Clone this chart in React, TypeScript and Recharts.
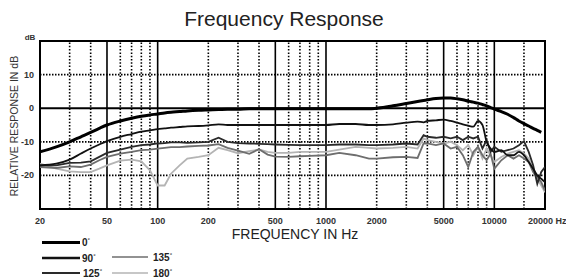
import React from 'react';
import { LineChart, Line, XAxis, YAxis, ReferenceLine, ReferenceArea } from 'recharts';

const freqs = [20, 25, 30, 35, 40, 45, 50, 60, 70, 80, 90, 100, 110, 120, 135, 150, 175, 200, 230, 260, 300, 350, 400, 450, 500, 600, 700, 800, 1000, 1200, 1500, 1800, 2000, 2500, 3000, 3500, 3800, 4000, 4500, 5000, 5500, 6000, 6500, 7000, 7500, 8000, 8500, 9000, 9500, 10000, 11000, 12000, 13000, 14000, 15000, 16000, 17000, 18000, 19000, 20000];

const deg0 = [-13, -11.5, -10, -8.5, -7.2, -6, -5, -3.8, -3, -2.4, -2, -1.7, -1.4, -1.2, -1, -0.8, -0.6, -0.5, -0.4, -0.3, -0.3, -0.2, -0.2, -0.2, -0.2, -0.2, -0.2, -0.2, -0.2, -0.2, -0.2, -0.2, 0, 0.7, 1.4, 2, 2.3, 2.5, 2.9, 3.0, 3.0, 2.8, 2.5, 2.1, 1.8, 1.5, 1.1, 0.7, 0.2, -0.3, -1, -1.8, -2.8, -3.8, -4.6, -5.3, -6.0, -6.6, -7.2, null];

const deg90 = [-17, -16.5, -15.3, -13.5, -12, -10.8, -9.8, -8.5, -7.7, -7, -6.6, -6.2, -6, -5.8, -5.6, -5.4, -5.3, -5.1, -4.8, -5, -5, -5, -5, -5, -5, -5, -5, -5, -5, -4.7, -4.7, -5, -5, -4.8, -4.3, -4, -4.2, -3.8, -3.6, -3.4, -3.8, -4.3, -4.8, -5.2, -5.5, -3.8, -5, -10, -12, -13, -12.5, -14, -14, -13, -14, -16, -18, -20, -21, -22];

const deg125 = [-17, -17, -16.3, -16.2, -15.8, -14.5, -13.3, -12.3, -11.5, -11, -10.8, -10.5, -10.4, -10.2, -10.2, -10.3, -10.2, -10, -8.8, -10, -10.4, -10.5, -10.6, -10.7, -10.8, -10.9, -11, -11, -11, -10.8, -10.8, -11, -11, -10.8, -10.5, -10.8, -8, -8.5, -8.8, -8.5, -9, -8.5, -9.5, -8.5, -9, -8.5, -12, -9.5, -13, -11.5, -13, -12.5, -12, -11, -9.8, -13, -17, -22.5, -19, -17.5];

const deg135 = [-17.5, -17.8, -17.3, -17.5, -16.8, -15.5, -14.5, -13.5, -13, -12.5, -12.3, -12, -11.8, -11.6, -11.6, -11.4, -11.2, -11.1, -10.7, -11.8, -12.6, -13.6, -12.2, -13.8, -14.4, -14.5, -14.3, -14.2, -14, -13.3, -14, -15, -15, -14.6, -14.5, -14.8, -10.5, -10.5, -11, -10.5, -12, -11.5, -14, -17.5, -13, -11.5, -14, -15.5, -13.5, -18, -15.5, -14, -15, -14, -15, -16, -19, -20.5, -22, -24.5];

const deg180 = [-16.5, -18, -18.8, -19, -19, -18, -17, -15.6, -15.3, -15.8, -18.5, -23, -23, -19.5, -17, -15, -14.5, -14, -11.8, -12.5, -13.4, -12.8, -12.3, -13, -13.3, -13.3, -13, -13, -13, -12.3, -11.5, -11.8, -12, -11.8, -11.5, -12, -9, -9.5, -10, -10.5, -10, -11, -12.5, -11, -14, -11.5, -15, -12, -14, -16, -14.5, -13.5, -13, -12.5, -13.5, -15, -18.5, -21, -23, -25];

const xTicks = [20, 50, 100, 200, 500, 1000, 2000, 5000, 10000, 20000];
const yTicks = [-20, -10, 0, 10];
const solidX = [50, 100, 500, 1000, 5000, 10000];
const dottedX = [30, 40, 60, 70, 80, 90, 200, 300, 400, 600, 700, 800, 900, 2000, 3000, 4000, 6000, 7000, 8000, 9000, 15000];
const dottedY = [10, -10, -20];

const data = freqs.map((f, i) => ({
  f,
  d0: deg0[i],
  d90: deg90[i],
  d125: deg125[i],
  d135: deg135[i],
  d180: deg180[i],
}));

const font = 'Arial, "Liberation Sans", Helvetica, sans-serif';

const XTick = (props: any) => {
  const { x, y, payload } = props;
  if (payload.value === 20000) {
    return (
      <text x={x - 17} y={y + 7} fontSize={9} fontFamily={font} fill="#333" fontWeight="bold" textAnchor="start">
        20000 Hz
      </text>
    );
  }
  return (
    <text x={x} y={y + 7} fontSize={9} fontFamily={font} fill="#333" fontWeight="bold" textAnchor="middle">
      {payload.value}
    </text>
  );
};

const YTick = (props: any) => {
  const { x, y, payload } = props;
  return (
    <text x={x + 2} y={y + 3} fontSize={9} fontFamily={font} fill="#333" fontWeight="bold" textAnchor="end">
      {payload.value}
    </text>
  );
};

const Deg = ({ x, y, label }: { x: number; y: number; label: string }) => (
  <text x={x} y={y} fontSize={10} fontFamily={font} fill="#222" fontWeight="bold">
    {label}
    <tspan fontSize={6} dy={-4}>°</tspan>
  </text>
);

export default function App() {
  return (
    <div style={{ position: 'fixed', left: 0, top: 0, width: 566, height: 278, background: '#fff' }}>
      <LineChart width={566} height={278} data={data} margin={{ top: 41, right: 21, bottom: 49, left: 0 }}>
        <XAxis
          dataKey="f"
          type="number"
          scale="log"
          domain={[20, 20000]}
          ticks={xTicks}
          axisLine={false}
          tickLine={false}
          tick={<XTick />}
          height={20}
          allowDataOverflow
        />
        <YAxis
          type="number"
          domain={[-30, 20]}
          ticks={yTicks}
          axisLine={false}
          tickLine={false}
          tick={<YTick />}
          width={40}
          allowDataOverflow
        />
        {dottedX.map((f) => (
          <ReferenceLine key={'dx' + f} x={f} stroke="#000" strokeWidth={1.6} strokeDasharray="1.5 1.8" />
        ))}
        {solidX.map((f) => (
          <ReferenceLine key={'sx' + f} x={f} stroke="#000" strokeWidth={1.6} />
        ))}
        {dottedY.map((v) => (
          <ReferenceLine key={'dy' + v} y={v} stroke="#000" strokeWidth={1.8} strokeDasharray="1.5 1.5" />
        ))}
        <ReferenceLine y={0} stroke="#000" strokeWidth={2} />
        <Line dataKey="d180" stroke="#b4b4b4" strokeWidth={1.8} dot={false} type="linear" isAnimationActive={false} />
        <Line dataKey="d135" stroke="#6e6e6e" strokeWidth={1.8} dot={false} type="linear" isAnimationActive={false} />
        <Line dataKey="d125" stroke="#2a2a2a" strokeWidth={1.8} dot={false} type="linear" isAnimationActive={false} />
        <Line dataKey="d90" stroke="#111" strokeWidth={1.8} dot={false} type="monotone" isAnimationActive={false} />
        <Line dataKey="d0" stroke="#000" strokeWidth={3} dot={false} type="monotone" isAnimationActive={false} connectNulls />
        <ReferenceArea x1={20} x2={20000} y1={-30} y2={20} fill="none" stroke="#000" strokeWidth={2} />
      </LineChart>
      <svg width={566} height={278} style={{ position: 'absolute', left: 0, top: 0, pointerEvents: 'none' }}>
        <text x={284} y={26} fontSize={21} fontFamily={font} fill="#222" textAnchor="middle">
          Frequency Response
        </text>
        <text x={30} y={40} fontSize={8} fontFamily={font} fill="#333" fontWeight="bold" textAnchor="middle">
          dB
        </text>
        <text
          x={0}
          y={0}
          fontSize={10.5}
          fontFamily={font}
          fill="#333"
          textAnchor="middle"
          transform="translate(18,126) rotate(-90)"
        >
          RELATIVE RESPONSE IN dB
        </text>
        <text x={295} y={239} fontSize={14} fontFamily={font} fill="#222" textAnchor="middle">
          FREQUENCY IN Hz
        </text>
        <line x1={42} x2={80} y1={242.5} y2={242.5} stroke="#000" strokeWidth={3} />
        <Deg x={82} y={246} label="0" />
        <line x1={42} x2={80} y1={258} y2={258} stroke="#111" strokeWidth={2.4} />
        <Deg x={82} y={261.5} label="90" />
        <line x1={112} x2={148} y1={257} y2={257} stroke="#6e6e6e" strokeWidth={1.5} />
        <Deg x={153} y={260.5} label="135" />
        <line x1={42} x2={80} y1={273} y2={273} stroke="#2a2a2a" strokeWidth={2} />
        <Deg x={83} y={276.5} label="125" />
        <line x1={112} x2={148} y1={273} y2={273} stroke="#b4b4b4" strokeWidth={1.5} />
        <Deg x={153} y={276.5} label="180" />
      </svg>
    </div>
  );
}
